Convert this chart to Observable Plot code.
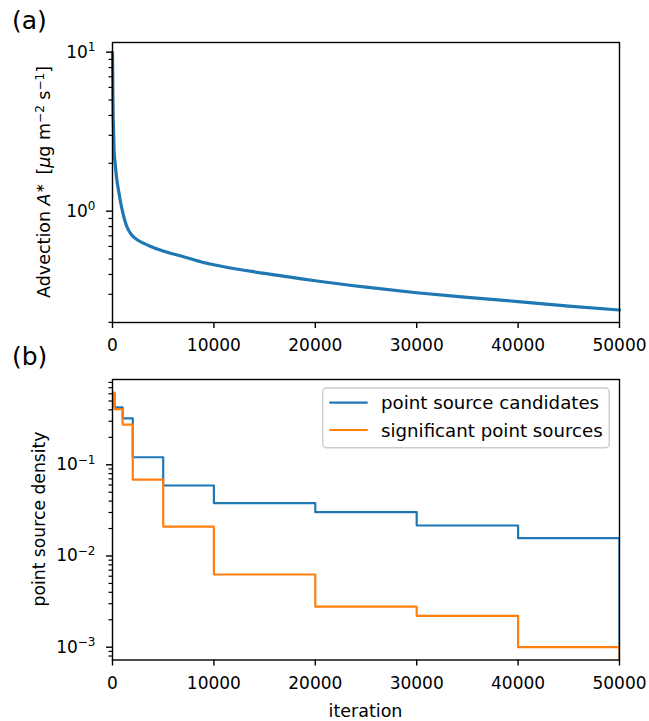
<!DOCTYPE html>
<html><head><meta charset="utf-8">
<script src="https://cdn.jsdelivr.net/npm/d3@7"></script>
<script src="https://cdn.jsdelivr.net/npm/@observablehq/plot@0.6"></script>
<style>
html,body{margin:0;padding:0;background:#fff;}
#fig{position:relative;width:649px;height:721px;background:#fff;}
#fig svg{display:block;position:absolute;left:0;overflow:visible;}
</style></head><body><div id="fig"></div>
<script>
// ---------- data ----------
// (a) advection A* vs iteration
const iterA = [0, 60, 100, 160, 260, 430, 600, 920, 1420, 1900, 2400, 3100, 4700, 7000, 8700, 10000, 15000, 20000, 25000, 30000, 35000, 40000, 45000, 50000];
const advA  = [10.0, 4.1, 3.2, 2.4, 2.0, 1.57, 1.343, 1.042, 0.798, 0.708, 0.664, 0.627, 0.569, 0.517, 0.481, 0.46, 0.406, 0.365, 0.333, 0.307, 0.287, 0.27, 0.253, 0.239];
// (b) point source density (step, value holds until next iteration; last = 0)
const iterB = [0, 200, 1000, 2000, 5000, 10000, 20000, 30000, 40000, 50000];
const candB = [0.60, 0.425, 0.322, 0.121, 0.0593, 0.0379, 0.0302, 0.0216, 0.0157, 0];
const signB = [0.62, 0.408, 0.276, 0.0686, 0.021, 0.00627, 0.00279, 0.00221, 0.001, 0];
const seriesNames  = ["point source candidates", "significant point sources"];
const seriesColors = ["#1f77b4", "#ff7f0e"];
// ticks
const xTicks   = [0, 10000, 20000, 30000, 40000, 50000];
const majorA   = [1, 10];
const minorA   = [0.2, 0.3, 0.4, 0.5, 0.6, 0.7, 0.8, 0.9, 2, 3, 4, 5, 6, 7, 8, 9];
const majorB   = [0.001, 0.01, 0.1];
const minorB   = [0.0008, 0.0009, 0.002, 0.003, 0.004, 0.005, 0.006, 0.007, 0.008, 0.009,
                  0.02, 0.03, 0.04, 0.05, 0.06, 0.07, 0.08, 0.09, 0.2, 0.3, 0.4, 0.5, 0.6, 0.7, 0.8];

// ---------- helpers ----------
const W = 649;
const FONT = "'DejaVu Sans', sans-serif";
const style = {fontFamily: FONT, fontSize: "17px", color: "black", background: "none", overflow: "visible"};
const powFmt = d => "10^" + Math.round(Math.log10(d));
const NEG = "\u2212";

function supTicks(svg) {
  d3.select(svg).selectAll("text").each(function() {
    const m = /^10\^(-?\d+)$/.exec(this.textContent);
    if (!m) return;
    const s = d3.select(this);
    s.text("");
    s.append("tspan").text("10");
    s.append("tspan").attr("dy", "-6.5px").attr("font-size", "12px").text(m[1].replace("-", NEG));
  });
}
function addRich(g, parts, attrs) {
  const t = g.append("text");
  for (const k in attrs) t.attr(k, attrs[k]);
  for (const p of parts) {
    const ts = t.append("tspan").text(p.t);
    if (p.i) ts.attr("font-style", "italic");
    if (p.dy) ts.attr("dy", p.dy);
    if (p.fs) ts.attr("font-size", p.fs);
  }
  return t;
}
const fig = document.getElementById("fig");

// ---------- (a) ----------
const dataA = iterA.map((x, i) => ({x, y: advA[i]}));
const plotA = Plot.plot({
  width: W, height: 360,
  marginLeft: 112, marginRight: 30, marginTop: 42, marginBottom: 38,
  style,
  x: {domain: [0, 50000]},
  y: {type: "log", domain: [0.1995, 11.5]},
  marks: [
    Plot.line(dataA, {x: "x", y: "y", stroke: seriesColors[0], strokeWidth: 3.2, curve: "monotone-x"}),
    Plot.frame({stroke: "black", strokeWidth: 1.4}),
    Plot.axisX({ticks: xTicks, tickSize: 6, tickPadding: 10, tickFormat: d => String(d), label: null, strokeWidth: 1.4}),
    Plot.axisY({ticks: majorA, tickSize: 6, tickPadding: 11, tickFormat: powFmt, label: null, strokeWidth: 1.4}),
    Plot.axisY({ticks: minorA, tickSize: 3.5, tickFormat: () => "", label: null, strokeWidth: 1.2})
  ]
});
plotA.style.top = "0px";
fig.appendChild(plotA);
supTicks(plotA);
{
  const g = d3.select(plotA).append("g").attr("fill", "black").attr("text-anchor", "start");
  g.append("text").attr("x", 12).attr("y", 28.5).attr("font-size", "25px").text("(a)");
  addRich(g, [
    {t: "Advection "}, {t: "A", i: true}, {t: "\u2217", dy: "-6px", fs: "12px"},
    {t: "\u2002[", dy: "6px"}, {t: "\u03bc", i: true}, {t: "g m"},
    {t: NEG + "2", dy: "-6.5px", fs: "12px"}, {t: " s", dy: "6.5px"},
    {t: NEG + "1", dy: "-6.5px", fs: "12px"}, {t: "]", dy: "6.5px"}
  ], {transform: "translate(50,182) rotate(-90)", "text-anchor": "middle", "font-size": "17.5px"});
}

// ---------- (b) ----------
const dataB = [];
iterB.forEach((x, i) => {
  dataB.push({x, y: candB[i], s: seriesNames[0]});
});
iterB.forEach((x, i) => {
  dataB.push({x, y: signB[i], s: seriesNames[1]});
});
const plotB = Plot.plot({
  width: W, height: 361,
  marginLeft: 112, marginRight: 30, marginTop: 19, marginBottom: 61.5,
  style,
  x: {domain: [0, 50000]},
  y: {type: "log", domain: [0.000724, 0.861]},
  color: {domain: seriesNames, range: seriesColors},
  marks: [
    Plot.line(dataB, {x: "x", y: d => (d.y > 0 ? d.y : 1e-6), z: "s", stroke: "s",
      strokeWidth: 2.2, curve: "step-after", clip: true}),
    Plot.frame({stroke: "black", strokeWidth: 1.4}),
    Plot.axisX({ticks: xTicks, tickSize: 6, tickPadding: 11, tickFormat: d => String(d), label: null, strokeWidth: 1.4}),
    Plot.axisY({ticks: majorB, tickSize: 6, tickPadding: 11, tickFormat: powFmt, label: null, strokeWidth: 1.4}),
    Plot.axisY({ticks: minorB, tickSize: 3.5, tickFormat: () => "", label: null, strokeWidth: 1.2})
  ]
});
plotB.style.top = "360px";
fig.appendChild(plotB);
supTicks(plotB);
{
  const g = d3.select(plotB).append("g").attr("fill", "black").attr("text-anchor", "start");
  g.append("text").attr("x", 12).attr("y", 5).attr("font-size", "25px").text("(b)");
  g.append("text").attr("transform", "translate(45,159) rotate(-90)").attr("text-anchor", "middle")
    .attr("font-size", "17.2px").text("point source density");
  g.append("text").attr("x", 365.5).attr("y", 357).attr("text-anchor", "middle")
    .attr("font-size", "17.5px").text("iteration");
  // legend
  const lg = g.append("g");
  lg.append("rect").attr("x", 322.7).attr("y", 28).attr("width", 286.6).attr("height", 59.7)
    .attr("rx", 4).attr("fill", "white").attr("fill-opacity", 0.8).attr("stroke", "#cccccc").attr("stroke-width", 1.4);
  seriesNames.forEach((n, i) => {
    const y = 42.7 + i * 27.3;
    lg.append("line").attr("x1", 329.3).attr("x2", 367.7).attr("y1", y).attr("y2", y)
      .attr("stroke", seriesColors[i]).attr("stroke-width", 2.2);
    lg.append("text").attr("x", 381).attr("y", y + 6.6).attr("font-size", "18.2px").text(n);
  });
}
</script></body></html>
